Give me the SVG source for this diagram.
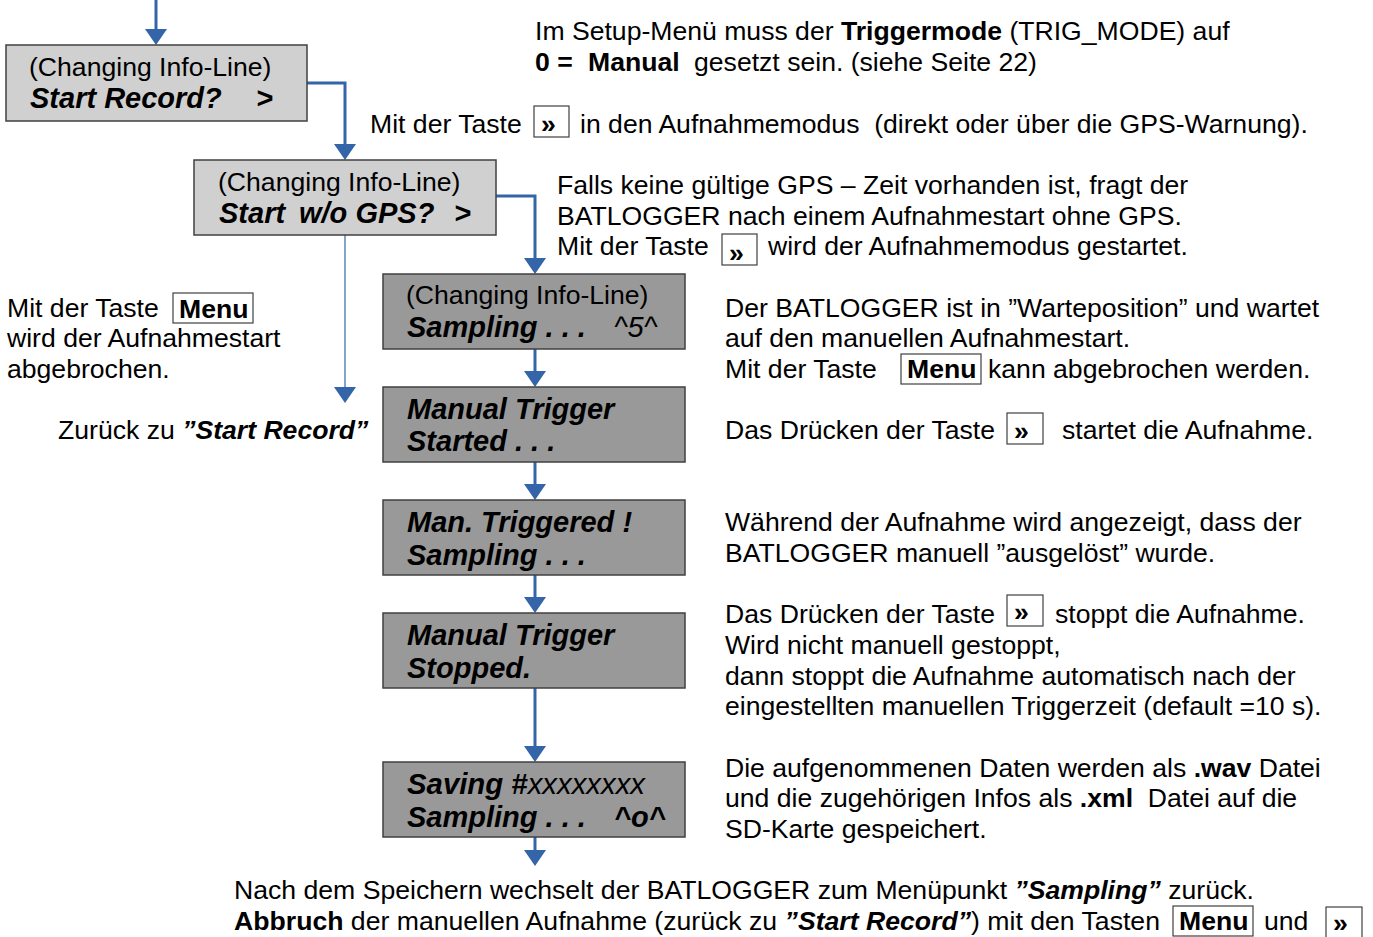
<svg xmlns="http://www.w3.org/2000/svg" width="1373" height="937" viewBox="0 0 1373 937">
<style>
text{font-family:"Liberation Sans",Arial,sans-serif;font-size:26.6px;fill:#000}
.bi{font-weight:bold;font-style:italic}
.i{font-style:italic}
.b{font-weight:bold}
.big{font-size:29px}
.lt{fill:#d0d0d0;stroke:#404040;stroke-width:1.5}
.dk{fill:#999999;stroke:#404040;stroke-width:1.5}
.key{fill:#fff;stroke:#404040;stroke-width:1.2}
.con{fill:none;stroke:#3465a8;stroke-width:3}
.thin{fill:none;stroke:#3465a8;stroke-width:1.2}
.ah{fill:#3465a8}
</style>
<g id="connectors">
<path class="con" d="M156,0 V32"/><path class="ah" d="M145,29 L167,29 L156,45 Z"/>
<path class="con" d="M307,83 H345 V147"/><path class="ah" d="M334,144 L356,144 L345,160 Z"/>
<path class="con" d="M496,196 H535 V261"/><path class="ah" d="M524,258 L546,258 L535,274 Z"/>
<path class="thin" d="M345,235 V390"/><path class="ah" d="M334,387 L356,387 L345,403 Z"/>
<path class="con" d="M535,349 V374"/><path class="ah" d="M524,371 L546,371 L535,387 Z"/>
<path class="con" d="M535,462 V487"/><path class="ah" d="M524,484 L546,484 L535,500 Z"/>
<path class="con" d="M535,575 V600"/><path class="ah" d="M524,597 L546,597 L535,613 Z"/>
<path class="con" d="M535,688 V749"/><path class="ah" d="M524,746 L546,746 L535,762 Z"/>
<path class="con" d="M535,837 V853"/><path class="ah" d="M524,850 L546,850 L535,866 Z"/>
</g>
<g id="n1"><rect class="lt" x="6" y="45" width="301" height="76"/>
<text x="29" y="76">(Changing Info-Line)</text><text class="bi big" y="108"><tspan x="30">Start Record?</tspan><tspan x="256">&gt;</tspan></text></g>
<g id="n2"><rect class="lt" x="194" y="160" width="302" height="75"/>
<text x="218" y="191">(Changing Info-Line)</text><text class="bi big" y="223"><tspan x="219">Start</tspan><tspan x="299">w/o GPS?</tspan><tspan x="454">&gt;</tspan></text></g>
<g id="n3"><rect class="dk" x="383" y="274" width="302" height="75"/>
<text x="406" y="304">(Changing Info-Line)</text><text class="big" y="337"><tspan class="bi" x="407">Sampling . . .</tspan><tspan class="i" x="614">^5^</tspan></text></g>
<g id="n4"><rect class="dk" x="383" y="387" width="302" height="75"/>
<text class="bi big" x="407" y="419">Manual Trigger</text><text class="bi big" x="407" y="451">Started . . .</text></g>
<g id="n5"><rect class="dk" x="383" y="500" width="302" height="75"/>
<text class="bi big" x="407" y="532">Man. Triggered !</text><text class="bi big" x="407" y="565">Sampling . . .</text></g>
<g id="n6"><rect class="dk" x="383" y="613" width="302" height="75"/>
<text class="bi big" x="407" y="645">Manual Trigger</text><text class="bi big" x="407" y="678">Stopped.</text></g>
<g id="n7"><rect class="dk" x="383" y="762" width="302" height="75"/>
<text class="big" x="407" y="794" textLength="238" lengthAdjust="spacingAndGlyphs"><tspan class="bi">Saving #</tspan><tspan class="i">xxxxxxxx</tspan></text><text class="bi big" y="827"><tspan x="407">Sampling . . .</tspan><tspan x="614">^o^</tspan></text></g>
<g id="notes">
<text x="535" y="40">Im Setup-Menü muss der <tspan class="b">Triggermode</tspan> (TRIG_MODE) auf</text>
<text x="535" y="71"><tspan class="b">0 =</tspan><tspan class="b" x="588">Manual</tspan><tspan x="694">gesetzt sein. (siehe Seite 22)</tspan></text>
<text x="370" y="133">Mit der Taste</text><rect class="key" x="534" y="106" width="35" height="31"/><text class="b" x="541" y="133">»</text>
<text x="580" y="133" xml:space="preserve">in den Aufnahmemodus  (direkt oder über die GPS-Warnung).</text>
<text x="557" y="194">Falls keine gültige GPS – Zeit vorhanden ist, fragt der</text>
<text x="557" y="225">BATLOGGER nach einem Aufnahmestart ohne GPS.</text>
<text x="557" y="255">Mit der Taste</text><rect class="key" x="722" y="234" width="35" height="31"/><text class="b" x="729" y="262">»</text>
<text x="768" y="255">wird der Aufnahmemodus gestartet.</text>
<text x="7" y="317">Mit der Taste</text><rect class="key" x="173" y="293" width="80" height="30"/><text class="b" x="179" y="318">Menu</text>
<text x="7" y="347">wird der Aufnahmestart</text>
<text x="7" y="378">abgebrochen.</text>
<text x="58" y="439">Zurück zu <tspan class="bi">”Start Record”</tspan></text>
<text x="725" y="317">Der BATLOGGER ist in ”Warteposition” und wartet</text>
<text x="725" y="347">auf den manuellen Aufnahmestart.</text>
<text x="725" y="378">Mit der Taste</text><rect class="key" x="901" y="354" width="80" height="30"/><text class="b" x="907" y="378">Menu</text>
<text x="988" y="378">kann abgebrochen werden.</text>
<text x="725" y="439">Das Drücken der Taste</text><rect class="key" x="1007" y="413" width="36" height="31"/><text class="b" x="1014" y="440">»</text>
<text x="1062" y="439">startet die Aufnahme.</text>
<text x="725" y="531">Während der Aufnahme wird angezeigt, dass der</text>
<text x="725" y="562">BATLOGGER manuell ”ausgelöst” wurde.</text>
<text x="725" y="623">Das Drücken der Taste</text><rect class="key" x="1007" y="595" width="36" height="31"/><text class="b" x="1014" y="621">»</text>
<text x="1055" y="623">stoppt die Aufnahme.</text>
<text x="725" y="654">Wird nicht manuell gestoppt,</text>
<text x="725" y="685">dann stoppt die Aufnahme automatisch nach der</text>
<text x="725" y="715">eingestellten manuellen Triggerzeit (default =10 s).</text>
<text x="725" y="777">Die aufgenommenen Daten werden als <tspan class="b">.wav</tspan> Datei</text>
<text x="725" y="807" xml:space="preserve">und die zugehörigen Infos als <tspan class="b">.xml</tspan>  Datei auf die</text>
<text x="725" y="838">SD-Karte gespeichert.</text>
<text x="234" y="899" textLength="1020" lengthAdjust="spacingAndGlyphs">Nach dem Speichern wechselt der BATLOGGER zum Menüpunkt <tspan class="bi">”Sampling”</tspan> zurück.</text>
<text x="234" y="930" textLength="926" lengthAdjust="spacingAndGlyphs"><tspan class="b">Abbruch</tspan> der manuellen Aufnahme (zurück zu <tspan class="bi">”Start Record”</tspan>) mit den Tasten</text>
<rect class="key" x="1173" y="906" width="80" height="30"/><text class="b" x="1179" y="930">Menu</text>
<text x="1264" y="930">und</text>
<rect class="key" x="1326" y="907" width="36" height="32"/><text class="b" x="1333" y="932">»</text>
</g>
</svg>
